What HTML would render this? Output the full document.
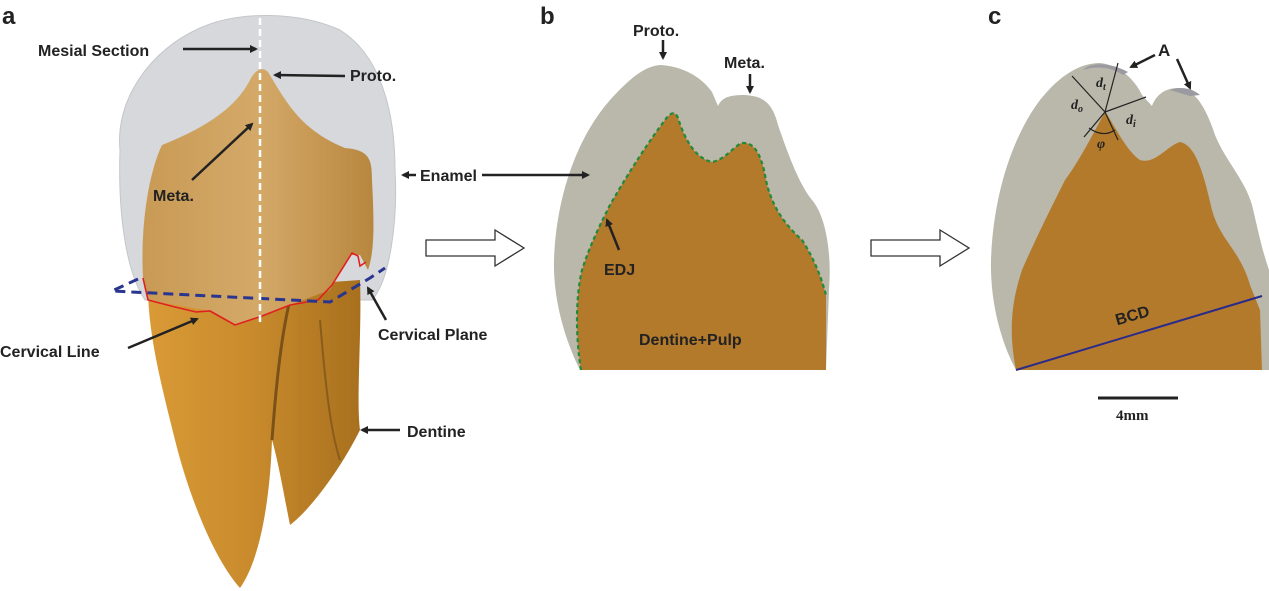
<!DOCTYPE html>
<html><head><meta charset="utf-8"><style>
html,body{margin:0;padding:0;background:#fff;}
svg{display:block;}
text{font-family:"Liberation Sans",Arial,sans-serif;font-weight:bold;fill:#222;}
text.serif{font-family:"Liberation Serif",serif;font-style:italic;}
text.serifb{font-family:"Liberation Serif",serif;}
</style></head><body>
<svg width="1269" height="591" viewBox="0 0 1269 591" xmlns="http://www.w3.org/2000/svg">
<defs>
<marker id="ah" markerWidth="8" markerHeight="8" refX="6" refY="4" orient="auto" markerUnits="userSpaceOnUse"><path d="M0,0 L8,4 L0,8 Z" fill="#222"/></marker>
<linearGradient id="crown" x1="0" y1="0" x2="1" y2="0"><stop offset="0" stop-color="#c89a55"/><stop offset="0.5" stop-color="#d4a968"/><stop offset="1" stop-color="#b8873e"/></linearGradient>
<linearGradient id="root" x1="0" y1="0" x2="1" y2="0"><stop offset="0" stop-color="#d99a36"/><stop offset="0.5" stop-color="#c88a2c"/><stop offset="1" stop-color="#a8701e"/></linearGradient>
</defs>

<!-- Panel a -->
<text x="2" y="24" font-size="24">a</text>
<path d="M120,150 C115,100 150,50 200,28 C240,10 300,12 340,30 C380,55 395,110 395,170 C398,220 390,280 372,300 L145,300 C125,270 118,210 120,150 Z" fill="#d6d8dc" stroke="#c4c6ca"/>
<path d="M148,295 L360,280 C362,330 356,400 360,430 C340,470 310,510 290,525 C285,500 278,460 272,440 C270,500 260,560 240,588 C215,560 190,500 175,440 C160,380 150,340 148,295 Z" fill="url(#root)"/>
<path d="M272,440 C275,400 280,340 290,300" stroke="#7a5218" stroke-width="3" fill="none"/>
<path d="M320,320 C325,380 330,430 340,460" stroke="#8a5c1c" stroke-width="2" fill="none"/>
<path d="M143,280 C140,220 150,170 162,145 C200,130 235,110 250,80 C255,70 262,66 268,72 C285,100 300,130 345,148 C370,150 372,160 372,180 C374,220 375,250 368,270 L360,255 L350,255 L330,290 L290,305 L235,326 L210,311 L148,300 Z" fill="url(#crown)"/>
<path d="M143,278 L148,300 L175,307 L196,312 L210,311 L235,325 L262,316 L290,305 L318,300 L332,285 L352,253 L358,256 L360,266 L366,262" stroke="#e02020" stroke-width="1.6" fill="none"/>
<path d="M138,279 L112,291 L330,302 L370,278 L385,268" stroke="#2a3590" stroke-width="3" stroke-dasharray="10,6" fill="none"/>
<line x1="260" y1="18" x2="260" y2="325" stroke="#fff" stroke-width="2.5" stroke-dasharray="7,4"/>
<text x="38" y="56" font-size="16">Mesial Section</text>
<line x1="183" y1="49" x2="256" y2="49" stroke="#222" stroke-width="2.5" marker-end="url(#ah)"/>
<text x="350" y="81" font-size="16">Proto.</text>
<line x1="345" y1="76" x2="275" y2="75" stroke="#222" stroke-width="2.5" marker-end="url(#ah)"/>
<text x="153" y="201" font-size="16">Meta.</text>
<line x1="192" y1="180" x2="252" y2="124" stroke="#222" stroke-width="2.5" marker-end="url(#ah)"/>
<text x="420" y="181" font-size="16">Enamel</text>
<line x1="416" y1="175" x2="403" y2="175" stroke="#222" stroke-width="2.5" marker-end="url(#ah)"/>
<text x="0" y="357" font-size="16">Cervical Line</text>
<line x1="128" y1="348" x2="197" y2="319" stroke="#222" stroke-width="2.5" marker-end="url(#ah)"/>
<text x="378" y="340" font-size="16">Cervical Plane</text>
<line x1="386" y1="320" x2="368" y2="288" stroke="#222" stroke-width="2.5" marker-end="url(#ah)"/>
<text x="407" y="437" font-size="16">Dentine</text>
<line x1="400" y1="430" x2="362" y2="430" stroke="#222" stroke-width="2.5" marker-end="url(#ah)"/>

<path d="M426,240 L495,240 L495,230 L524,248 L495,266 L495,256 L426,256 Z" fill="#fff" stroke="#333" stroke-width="1.3"/>
<path d="M871,240 L940,240 L940,230 L969,248 L940,266 L940,256 L871,256 Z" fill="#fff" stroke="#333" stroke-width="1.3"/>

<!-- Panel b -->
<text x="540" y="24" font-size="24">b</text>
<path d="M580,370 C565,340 553,300 554,260 C556,200 575,140 610,100 C630,78 645,66 660,65 C680,66 700,75 712,92 L718,106 C722,97 730,95 745,95 C760,96 772,100 778,125 C790,160 800,185 812,200 C825,215 832,250 829,290 L826,370 Z" fill="#b9b8ab"/>
<path d="M581,370 C576,340 575,300 582,270 C590,245 600,225 610,205 C630,170 650,140 665,120 C670,113 675,110 678,118 C685,140 695,158 712,162 C725,160 735,145 742,143 C752,142 760,150 765,175 C770,205 785,225 802,240 C815,260 822,280 826,295 L826,370 Z" fill="#b47a2c"/>
<path d="M581,370 C576,340 575,300 582,270 C590,245 600,225 610,205 C630,170 650,140 665,120 C670,113 675,110 678,118 C685,140 695,158 712,162 C725,160 735,145 742,143 C752,142 760,150 765,175 C770,205 785,225 802,240 C815,260 822,280 826,295" stroke="#1f8a3a" stroke-width="2.2" stroke-dasharray="4,3" fill="none"/>
<text x="633" y="36" font-size="16">Proto.</text>
<line x1="663" y1="40" x2="663" y2="58" stroke="#222" stroke-width="2.5" marker-end="url(#ah)"/>
<text x="724" y="68" font-size="16">Meta.</text>
<line x1="750" y1="74" x2="750" y2="92" stroke="#222" stroke-width="2.5" marker-end="url(#ah)"/>
<line x1="482" y1="175" x2="588" y2="175" stroke="#222" stroke-width="2.5" marker-end="url(#ah)"/>
<text x="604" y="275" font-size="16">EDJ</text>
<line x1="619" y1="250" x2="607" y2="220" stroke="#222" stroke-width="2.5" marker-end="url(#ah)"/>
<text x="639" y="345" font-size="16">Dentine+Pulp</text>

<!-- Panel c -->
<text x="988" y="24" font-size="24">c</text>
<path d="M1016,370 C1000,340 990,300 991,260 C993,200 1010,140 1040,100 C1060,75 1080,63 1100,63 C1120,65 1135,80 1142,95 L1152,106 C1156,95 1165,88 1178,88 C1195,90 1205,105 1215,135 C1225,160 1245,180 1252,205 C1258,230 1262,250 1269,270 L1269,370 Z" fill="#b9b8ab"/>
<path d="M1083,70 C1090,62 1110,62 1128,72 L1123,75 C1110,66 1095,66 1083,70 Z" fill="#9a9aa0"/>
<path d="M1170,90 C1180,86 1192,88 1200,95 L1190,96 Z" fill="#9a9aa0"/>
<path d="M1016,370 C1008,330 1012,300 1022,270 C1035,240 1050,210 1065,180 C1080,160 1095,130 1105,112 C1112,120 1125,150 1140,160 C1155,165 1168,145 1180,142 C1195,145 1203,170 1212,210 C1220,240 1240,250 1250,285 L1260,310 L1262,370 Z" fill="#b47a2c"/>
<line x1="1016" y1="370" x2="1262" y2="296" stroke="#2a2a8a" stroke-width="2"/>
<g stroke="#222" stroke-width="1.2" fill="none">
<line x1="1105" y1="112" x2="1072" y2="76"/>
<line x1="1105" y1="112" x2="1118" y2="63"/>
<line x1="1105" y1="112" x2="1146" y2="97"/>
<line x1="1105" y1="112" x2="1084" y2="137"/>
<line x1="1105" y1="112" x2="1118" y2="140"/>
<path d="M1089,128 Q1103,138 1115,130"/>
</g>
<text class="serif" x="1071" y="109" font-size="14">d<tspan font-size="10" dy="3">o</tspan></text>
<text class="serif" x="1096" y="87" font-size="14">d<tspan font-size="10" dy="3">t</tspan></text>
<text class="serif" x="1126" y="124" font-size="14">d<tspan font-size="10" dy="3">i</tspan></text>
<text class="serif" x="1097" y="148" font-size="14">φ</text>
<text x="1158" y="56" font-size="17">A</text>
<line x1="1155" y1="55" x2="1131" y2="67" stroke="#222" stroke-width="2.5" marker-end="url(#ah)"/>
<line x1="1177" y1="59" x2="1190" y2="88" stroke="#222" stroke-width="2.5" marker-end="url(#ah)"/>
<text x="1115" y="320" font-size="16" transform="rotate(-16 1135 315)">BCD</text>
<line x1="1098" y1="398" x2="1178" y2="398" stroke="#222" stroke-width="3"/>
<text class="serifb" x="1116" y="420" font-size="15">4mm</text>
</svg>
</body></html>
